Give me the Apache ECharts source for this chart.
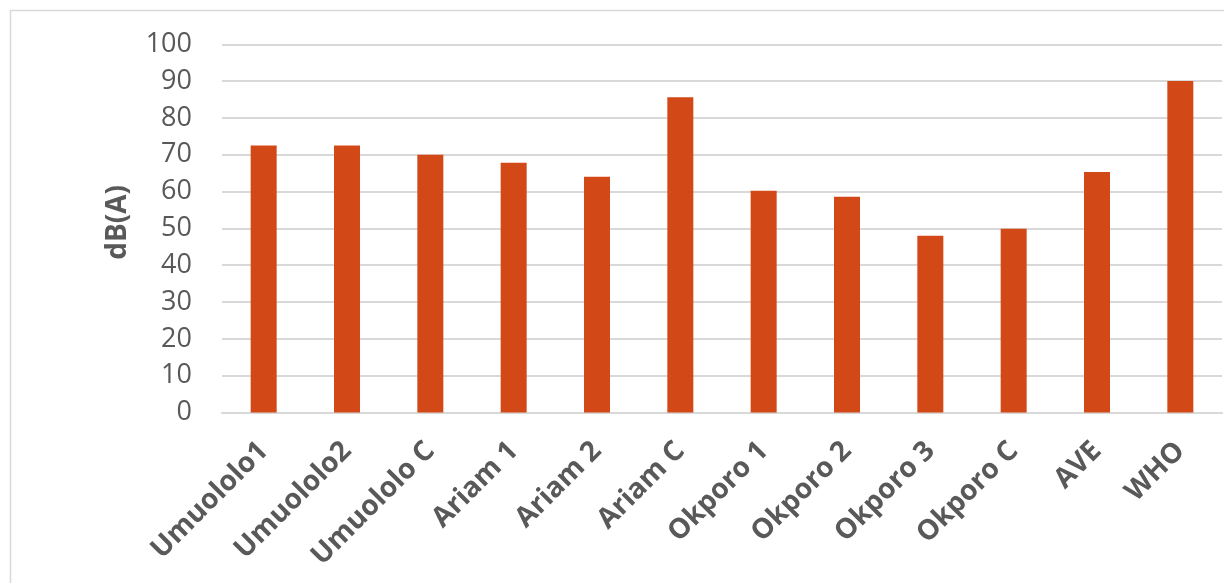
<!DOCTYPE html>
<html>
<head>
<meta charset="utf-8">
<script src="https://cdn.jsdelivr.net/npm/echarts@6/dist/echarts.min.js"></script>
<style>
html, body { margin: 0; padding: 0; background: #fff; }
#main-chart { width: 1224px; height: 583px; }
</style>
</head>
<body>
<div id="main-chart"></div>
<script>
var sites = ['Umuololo1', 'Umuololo2', 'Umuololo C', 'Ariam 1', 'Ariam 2', 'Ariam C',
    'Okporo 1', 'Okporo 2', 'Okporo 3', 'Okporo C', 'AVE', 'WHO'];
var levels = [72.5, 72.5, 70, 67.8, 64, 85.6, 60.2, 58.6, 48, 49.9, 65.3, 90];
var yTicks = [0, 10, 20, 30, 40, 50, 60, 70, 80, 90, 100];

var dom = document.getElementById('main-chart');
var myChart = echarts.init(dom);
var option = {
    animation: false,
    textStyle: { fontFamily: 'Open Sans' },
    graphic: [{
        type: 'rect',
        shape: { x: 10.5, y: 10.5, width: 1230, height: 600 },
        style: { fill: 'none', stroke: '#D9D9D9', lineWidth: 1.5 },
        silent: true
    }],
    grid: { left: 222, right: 2, top: 44.3, bottom: 170.5 },
    xAxis: {
        type: 'category',
        data: sites,
        axisLine: { lineStyle: { color: '#D9D9D9', width: 2 } },
        axisTick: { show: false },
        axisLabel: {
            rotate: 45,
            interval: 0,
            margin: 34,
            color: '#595959',
            fontSize: 28,
            fontWeight: 'bold',
            fontFamily: 'Open Sans'
        }
    },
    yAxis: {
        type: 'value',
        min: yTicks[0],
        max: yTicks[yTicks.length - 1],
        interval: 10,
        name: 'dB(A)',
        nameLocation: 'middle',
        nameGap: 90,
        nameRotate: 90,
        nameTextStyle: { color: '#595959', fontSize: 28, fontWeight: 'bold', fontFamily: 'Open Sans', padding: [0, 0, 0, 12] },
        axisLine: { show: false },
        axisTick: { show: false },
        splitLine: { lineStyle: { color: '#D9D9D9', width: 2 } },
        axisLabel: { color: '#595959', fontSize: 27, margin: 30, fontFamily: 'Open Sans' }
    },
    series: [{
        type: 'bar',
        data: levels,
        barWidth: 26,
        itemStyle: { color: '#D24817' }
    }]
};
myChart.setOption(option, true);
</script>
</body>
</html>
